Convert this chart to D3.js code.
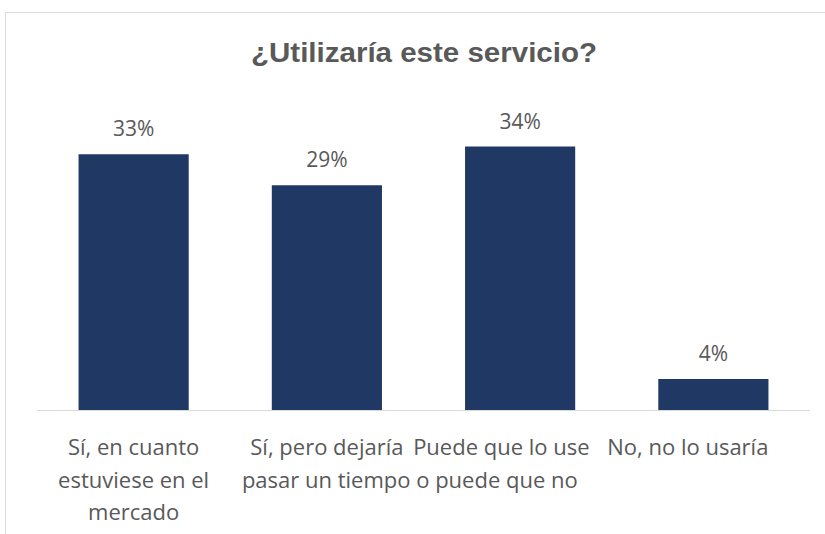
<!DOCTYPE html>
<html>
<head>
<meta charset="utf-8">
<script src="https://cdn.jsdelivr.net/npm/d3@7"></script>
<style>
  html, body { margin: 0; padding: 0; background: #fff; }
  svg { display: block; }
</style>
</head>
<body>
<svg id="chart" width="825" height="534"></svg>
<script>
// Survey answers and their shares (%)
const categories = [
  "Sí, en cuanto estuviese en el mercado",
  "Sí, pero dejaría pasar un tiempo o puede que no",
  "Puede que lo use",
  "No, no lo usaría"
];
const categoryLines = [
  ["Sí, en cuanto", "estuviese en el", "mercado"],
  ["Sí, pero dejaría", "pasar un tiempo o puede que no"],
  ["Puede que lo use"],
  ["No, no lo usaría"]
];
const values = [33, 29, 34, 4];
const title = "¿Utilizaría este servicio?";

const W = 825, H = 534;
const svg = d3.select("#chart");
const textColor = "#595959";
const font = "'Open Sans', 'Segoe UI', sans-serif";

// chart frame
svg.append("path")
  .attr("d", `M5.5,${H + 2} V12.5 H${W + 2}`)
  .attr("fill", "none")
  .attr("stroke", "#d9d9d9")
  .attr("stroke-width", 1);

// title
svg.append("text")
  .attr("x", 424)
  .attr("y", 62)
  .attr("text-anchor", "middle")
  .attr("font-family", "'Liberation Sans Narrow', 'Liberation Sans', Arial, sans-serif")
  .attr("font-weight", "bold")
  .attr("font-size", 27)
  .attr("fill", textColor)
  .attr("textLength", 346)
  .attr("lengthAdjust", "spacingAndGlyphs")
  .text(title);

const baseY = 410;
const x = d3.scaleBand()
  .domain(categories)
  .range([37, 810])
  .paddingInner(0.43)
  .paddingOuter(0.215);

const y = d3.scaleLinear()
  .domain([0, 40])
  .range([baseY, baseY - 40 * 7.75]);

// bars
svg.append("g")
  .selectAll("rect")
  .data(values)
  .join("rect")
  .attr("x", (d, i) => x(categories[i]))
  .attr("y", d => y(d))
  .attr("width", x.bandwidth())
  .attr("height", d => y(0) - y(d))
  .attr("fill", "#203864");

// category axis line
svg.append("line")
  .attr("x1", 37).attr("x2", 810)
  .attr("y1", baseY + 0.5).attr("y2", baseY + 0.5)
  .attr("stroke", "#d9d9d9")
  .attr("stroke-width", 1);

// value labels
svg.append("g")
  .selectAll("text")
  .data(values)
  .join("text")
  .attr("x", (d, i) => x(categories[i]) + x.bandwidth() / 2)
  .attr("y", d => y(d) - 18)
  .attr("text-anchor", "middle")
  .attr("font-family", font)
  .attr("font-size", 21)
  .attr("fill", textColor)
  .text(d => d + "%");

// category labels (wrapped the way the chart laid them out)
const lineH = 32.5;
const labelG = svg.append("g")
  .attr("font-family", font)
  .attr("font-size", 22)
  .attr("fill", textColor);

categoryLines.forEach((lines, i) => {
  const cx = x(categories[i]) + x.bandwidth() / 2;
  lines.forEach((ln, j) => {
    let anchor = "middle", tx = cx;
    if (i === 1 && j === 1) { anchor = "start"; tx = cx - 85; }
    if (i === 2) { anchor = "start"; tx = cx - 107; }
    if (i === 3) { anchor = "end"; tx = cx + 55; }
    labelG.append("text")
      .attr("x", tx)
      .attr("y", 455 + j * lineH)
      .attr("text-anchor", anchor)
      .text(ln);
  });
});
</script>
</body>
</html>
